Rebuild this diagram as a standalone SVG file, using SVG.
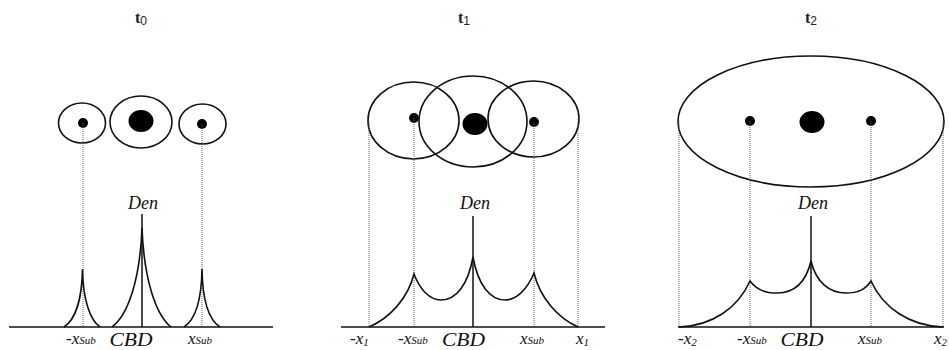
<svg xmlns="http://www.w3.org/2000/svg" width="949" height="350" viewBox="0 0 949 350">
<style>
.ring{fill:none;stroke:#111;stroke-width:1.6}
.dot{fill:#000}
.axis{fill:none;stroke:#111;stroke-width:1.5}
.curve{fill:none;stroke:#111;stroke-width:1.6}
.dotted{fill:none;stroke:#666;stroke-width:1;stroke-dasharray:1,1}
.title{font-family:"Liberation Serif",serif;font-size:16px;font-weight:bold;fill:#222}
.sub{font-size:12px;font-weight:normal;font-family:"Liberation Sans",sans-serif}
.lab{font-family:"Liberation Serif",serif;font-style:italic;font-size:18px;fill:#111}
.small{font-family:"Liberation Serif",serif;font-style:italic;font-size:17px;fill:#111}
.ss{font-size:11px}
</style>
<rect width="949" height="350" fill="#fff"/>

<!-- Panel t0 -->
<g id="panel-t0">
  <text class="title" x="135" y="23">t<tspan class="sub" dy="2">0</tspan></text>
  <g id="t0-sub-left"><ellipse class="ring" cx="82" cy="123" rx="23.5" ry="20"/><circle class="dot" cx="83" cy="123" r="5"/></g>
  <g id="t0-cbd"><ellipse class="ring" cx="141" cy="122" rx="31" ry="26"/><ellipse class="dot" cx="141" cy="121" rx="12.5" ry="11"/></g>
  <g id="t0-sub-right"><ellipse class="ring" cx="202.5" cy="124" rx="23.5" ry="20"/><circle class="dot" cx="202" cy="124" r="5"/></g>
</g>

<!-- Panel t1 -->
<g id="panel-t1">
  <text class="title" x="458" y="23">t<tspan class="sub" dy="2">1</tspan></text>
  <g id="t1-sub-left"><ellipse class="ring" cx="413.5" cy="120.5" rx="45.5" ry="38.5"/><circle class="dot" cx="414" cy="118" r="5"/></g>
  <g id="t1-cbd"><ellipse class="ring" cx="473" cy="121.5" rx="54" ry="45.5"/><ellipse class="dot" cx="475" cy="124" rx="12.5" ry="11"/></g>
  <g id="t1-sub-right"><ellipse class="ring" cx="533.5" cy="119" rx="45.5" ry="38"/><circle class="dot" cx="534" cy="122" r="5"/></g>
</g>

<!-- Panel t2 -->
<g id="panel-t2">
  <text class="title" x="805" y="23">t<tspan class="sub" dy="2">2</tspan></text>
  <g id="t2-region"><ellipse class="ring" cx="811" cy="121.5" rx="133" ry="65.5"/></g>
  <g id="t2-sub-left"><circle class="dot" cx="750" cy="121" r="5"/></g>
  <g id="t2-cbd"><ellipse class="dot" cx="812" cy="122" rx="12.5" ry="11"/></g>
  <g id="t2-sub-right"><circle class="dot" cx="871" cy="121" r="5"/></g>
</g>

<!-- Connectors / projection lines -->
<g id="connectors">
  <line class="dotted" x1="83" y1="123" x2="83" y2="327"/>
  <line class="dotted" x1="202" y1="124" x2="202" y2="327"/>
  <line class="dotted" x1="369" y1="121" x2="369" y2="327"/>
  <line class="dotted" x1="414" y1="118" x2="414" y2="327"/>
  <line class="dotted" x1="534" y1="122" x2="534" y2="327"/>
  <line class="dotted" x1="578" y1="119" x2="578" y2="327"/>
  <line class="dotted" x1="679" y1="121" x2="679" y2="327"/>
  <line class="dotted" x1="750" y1="121" x2="750" y2="327"/>
  <line class="dotted" x1="871" y1="121" x2="871" y2="327"/>
  <line class="dotted" x1="943" y1="121" x2="943" y2="327"/>
</g>

<!-- Density graphs -->
<g id="graph-t0">
  <line class="axis" x1="9" y1="327" x2="273" y2="327"/>
  <line class="axis" x1="142" y1="214" x2="142" y2="327"/>
  <path class="curve" d="M64,327 C75,320 82,300 82.5,269 C83,300 90,320 100,327"/>
  <path class="curve" d="M112,327 C128,315 140,280 142,228 C144,280 156,315 171,327"/>
  <path class="curve" d="M184,327 C195,320 201.5,300 202,269 C202.5,300 209,320 220,327"/>
  <text class="lab" x="143" y="209" text-anchor="middle">Den</text>
  <text class="lab" x="131" y="346" text-anchor="middle" font-size="20" textLength="43" lengthAdjust="spacingAndGlyphs">CBD</text>
  <text class="small" x="66" y="344">-x<tspan class="ss">Sub</tspan></text>
  <text class="small" x="188" y="344">x<tspan class="ss">Sub</tspan></text>
</g>

<g id="graph-t1">
  <line class="axis" x1="341" y1="327" x2="605" y2="327"/>
  <line class="axis" x1="473" y1="216" x2="473" y2="327"/>
  <path class="curve" d="M369,327 C390,318 408,298 414,274 C420,290 430,300 441,300 C456,300 468,285 473,257 C478,285 490,300 505,300 C516,300 527,290 534,273 C540,298 558,318 578,327"/>
  <text class="lab" x="475" y="209" text-anchor="middle">Den</text>
  <text class="lab" x="463.5" y="346" text-anchor="middle" font-size="20" textLength="43" lengthAdjust="spacingAndGlyphs">CBD</text>
  <text class="small" x="350" y="344">-x<tspan class="ss" dy="2">1</tspan></text>
  <text class="small" x="398" y="344">-x<tspan class="ss">Sub</tspan></text>
  <text class="small" x="520" y="344">x<tspan class="ss">Sub</tspan></text>
  <text class="small" x="576" y="344">x<tspan class="ss" dy="2">1</tspan></text>
</g>

<g id="graph-t2">
  <line class="axis" x1="678" y1="327" x2="944" y2="327"/>
  <line class="axis" x1="811" y1="216" x2="811" y2="327"/>
  <path class="curve" d="M679,327 C712,326 738,308 750,281 C757,290 765,293 777,293 C794,293 806,282 811,261 C816,282 829,293 846,293 C858,293 865,290 871,281 C883,308 910,326 943,327"/>
  <text class="lab" x="813" y="209" text-anchor="middle">Den</text>
  <text class="lab" x="802" y="346" text-anchor="middle" font-size="20" textLength="43" lengthAdjust="spacingAndGlyphs">CBD</text>
  <text class="small" x="678" y="344">-x<tspan class="ss" dy="2">2</tspan></text>
  <text class="small" x="737" y="344">-x<tspan class="ss">Sub</tspan></text>
  <text class="small" x="858" y="344">x<tspan class="ss">Sub</tspan></text>
  <text class="small" x="934" y="344">x<tspan class="ss" dy="2">2</tspan></text>
</g>
</svg>
